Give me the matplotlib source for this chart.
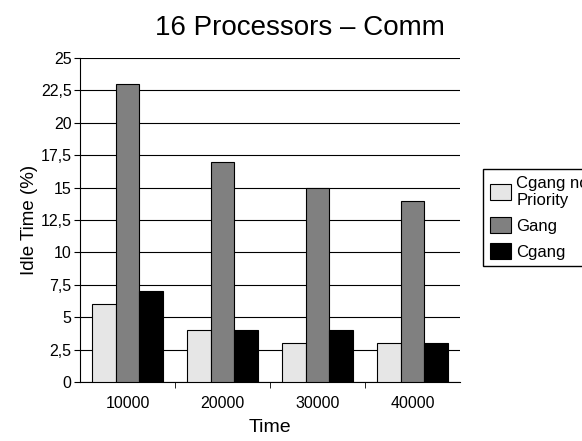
import matplotlib
matplotlib.use('Agg')
import matplotlib.pyplot as plt
import numpy as np

plt.rcParams['font.family'] = ['Liberation Sans', 'DejaVu Sans']

times = ['10000', '20000', '30000', '40000']
cgang_no_priority = [6, 4, 3, 3]
gang = [23, 17, 15, 14]
cgang = [7, 4, 4, 3]

series = [('Cgang no\nPriority', cgang_no_priority, '#e6e6e6'),
          ('Gang', gang, '#808080'),
          ('Cgang', cgang, '#000000')]

fig = plt.figure(figsize=(5.82, 4.41), dpi=100)
ax = fig.add_axes([80 / 582, 1 - 382 / 441, 380 / 582, 324 / 441])

x = np.arange(len(times))
w = 0.25
for i, (name, vals, col) in enumerate(series):
    ax.bar(x + (i - 1) * w, vals, w, color=col, edgecolor='black',
           linewidth=0.8, label=name, zorder=3)

ax.set_xlim(-0.5, len(times) - 0.5)
ax.set_ylim(0, 25)
yt = np.arange(0, 25.1, 2.5)
ax.set_yticks(yt)
ax.set_yticklabels([('%g' % v).replace('.', ',') for v in yt], fontsize=11.5)
ax.yaxis.grid(True, color='black', linewidth=0.8, zorder=0)

ax.set_xticks(x)
ax.set_xticklabels(times, fontsize=11.5)
ax.tick_params(axis='x', length=0, pad=10)
ax.set_xticks(np.arange(0.5, len(times) - 1, 1), minor=True)
ax.tick_params(axis='x', which='minor', length=4, direction='out')
ax.tick_params(axis='y', length=4, direction='out', pad=2)

ax.spines['top'].set_visible(False)
ax.spines['right'].set_visible(False)

ax.set_xlabel('Time', fontsize=14, labelpad=6)
ax.set_ylabel('Idle Time (%)', fontsize=13.5, labelpad=2)
fig.text(300 / 582, 1 - 35 / 441, '16 Processors \u2013 Comm', fontsize=20,
         ha='center', va='baseline')

fig.legend(loc='upper left', bbox_to_anchor=(483 / 582, 1 - 169 / 441),
           fontsize=12, frameon=True, fancybox=False, edgecolor='black',
           framealpha=1, handlelength=1.3, handleheight=1.1,
           handletextpad=0.3, borderpad=0.4, labelspacing=0.55,
           borderaxespad=0)

fig.savefig('out.png', dpi=100)
